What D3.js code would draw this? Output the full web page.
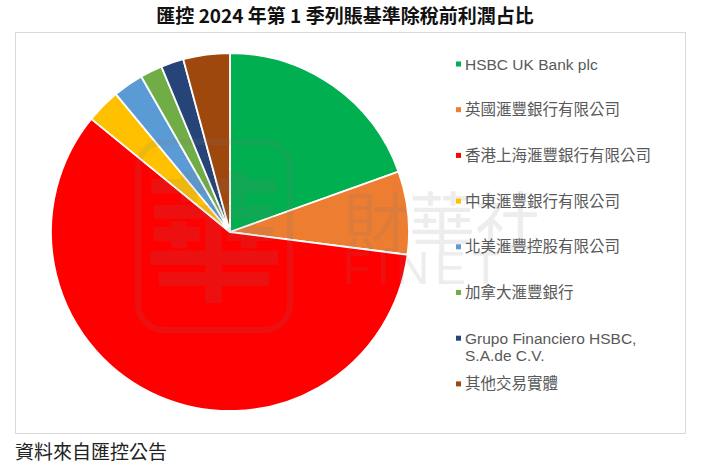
<!DOCTYPE html>
<html>
<head>
<meta charset="utf-8">
<script src="https://cdn.jsdelivr.net/npm/d3@7"></script>
<style>
  html, body { margin: 0; padding: 0; background: #fff; }
  svg { display: block; }
</style>
</head>
<body>
<div id="chart"></div>
<script>
// share of Q1 2024 reported PBT, in %
const entities = [
  "HSBC UK Bank plc",
  "英國滙豐銀行有限公司",
  "香港上海滙豐銀行有限公司",
  "中東滙豐銀行有限公司",
  "北美滙豐控股有限公司",
  "加拿大滙豐銀行",
  "Grupo Financiero HSBC,\nS.A.de C.V.",
  "其他交易實體"
];
const shares = [19.5, 7.5, 58.8, 3.1, 2.75, 2.0, 2.05, 4.2];
const colors = ["#00b050", "#ed7d31", "#ff0000", "#ffc000", "#5b9bd5", "#70ad47", "#264478", "#9e480e"];

const title = "匯控 2024 年第 1 季列賬基準除稅前利潤占比";
const source = "資料來自匯控公告";

const width = 702, height = 476;
const font = "'Noto Sans CJK TC', 'Noto Sans', sans-serif";
const legendFont = "'Liberation Sans', 'Noto Sans CJK TC', sans-serif";

let svg = d3.select("#chart")
  .append("svg")
  .attr("width", width)
  .attr("height", height);

// title
svg.append("text")
  .attr("x", 345)
  .attr("y", 23)
  .attr("text-anchor", "middle")
  .attr("font-family", font)
  .attr("font-size", 19)
  .attr("font-weight", "bold")
  .attr("fill", "#111")
  .text(title);

// chart frame
svg.append("rect")
  .attr("x", 15.5)
  .attr("y", 32.5)
  .attr("width", 670)
  .attr("height", 401)
  .attr("fill", "#fff")
  .attr("stroke", "#d9d9d9")
  .attr("stroke-width", 1);

// pie
let pie = d3.pie()
  .sort(null)
  .value(d => d)
  .startAngle(0)
  .endAngle(2 * Math.PI);

let arc = d3.arc()
  .innerRadius(0)
  .outerRadius(179);

let g = svg.append("g")
  .attr("transform", "translate(230,232)");

g.selectAll("path")
  .data(pie(shares))
  .join("path")
  .attr("d", arc)
  .attr("fill", (d, i) => colors[i])
  .attr("stroke", "#fff")
  .attr("stroke-width", 1.8)
  .attr("stroke-linejoin", "round");

// watermark
let wm = svg.append("g")
  .attr("opacity", 0.13)
  .attr("fill", "#7a7a7a");

wm.append("rect")
  .attr("x", 138)
  .attr("y", 142)
  .attr("width", 152)
  .attr("height", 188)
  .attr("rx", 26)
  .attr("fill", "none")
  .attr("stroke", "#7a7a7a")
  .attr("stroke-width", 6);

wm.append("text")
  .attr("x", 214)
  .attr("y", 290)
  .attr("text-anchor", "middle")
  .attr("font-family", font)
  .attr("font-size", 140)
  .attr("font-weight", "bold")
  .text("華");

wm.append("text")
  .attr("x", 343)
  .attr("y", 247)
  .attr("font-family", font)
  .attr("font-size", 66)
  .text("財華社");

wm.append("text")
  .attr("x", 343)
  .attr("y", 284)
  .attr("font-family", "'Liberation Sans', Arial, sans-serif")
  .attr("font-size", 46)
  .attr("letter-spacing", 6)
  .text("FINET");

// legend
let legend = svg.append("g")
  .attr("transform", "translate(456,0)");

let items = legend.selectAll("g")
  .data(entities)
  .join("g")
  .attr("transform", (d, i) => `translate(0,${64 + i * 45.7})`);

items.append("rect")
  .attr("x", 0)
  .attr("y", -2.5)
  .attr("width", 5)
  .attr("height", 5)
  .attr("fill", (d, i) => colors[i]);

let labels = items.append("text")
  .attr("x", 9)
  .attr("font-family", legendFont)
  .attr("font-size", 15.5)
  .attr("fill", "#595959");

labels.selectAll("tspan")
  .data(d => d.split("\n"))
  .join("tspan")
  .attr("x", 9)
  .attr("y", (d, i) => 5.5 + i * 17)
  .text(d => d);

// source note
svg.append("text")
  .attr("x", 15)
  .attr("y", 459)
  .attr("font-family", font)
  .attr("font-size", 19)
  .attr("fill", "#222")
  .text(source);
</script>
</body>
</html>
